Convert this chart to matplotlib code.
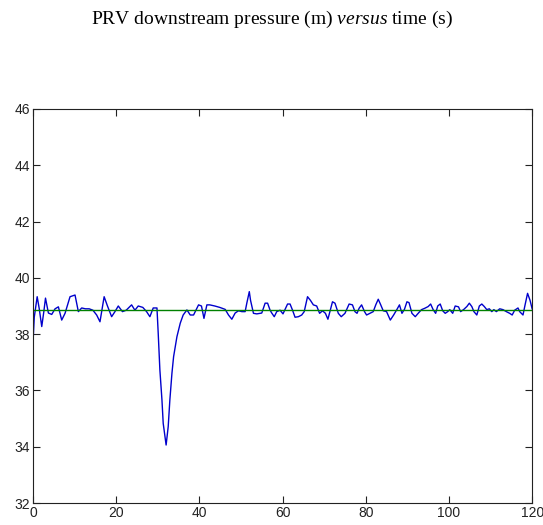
import matplotlib
matplotlib.use("Agg")
from matplotlib import pyplot as plt

plt.rcParams['font.family'] = ['Liberation Sans', 'DejaVu Sans']
plt.rcParams['mathtext.fontset'] = 'custom'
plt.rcParams['mathtext.rm'] = 'Liberation Serif'
plt.rcParams['mathtext.it'] = 'Liberation Serif:italic'

# time (s) and PRV downstream pressure (m)
time = [0.0, 0.3, 1.0, 1.5, 2.1, 2.6, 3.0, 3.7, 4.5, 5.3, 6.1, 6.9, 7.7, 8.9,
        10.1, 10.9, 11.7, 12.6, 13.5, 14.4, 15.3, 16.1, 17.1, 17.9, 18.9, 19.7,
        20.5, 21.5, 22.4, 23.7, 24.5, 25.3, 26.4, 27.3, 28.1, 28.9, 29.8, 30.1,
        30.5, 31.0, 31.3, 32.0, 32.5, 32.9, 33.4, 33.8, 34.6, 35.4, 36.1, 37.0,
        37.8, 38.6, 39.8, 40.5, 41.1, 41.8, 42.5, 43.7, 44.9, 46.2, 47.0, 47.8,
        48.6, 49.4, 50.2, 51.0, 51.4, 52.0, 52.3, 53.0, 53.8, 55.0, 55.8, 56.4,
        57.0, 57.4, 58.0, 58.6, 59.4, 60.1, 60.6, 61.2, 61.8, 62.4, 63.0, 63.8,
        64.6, 65.2, 66.0, 66.7, 67.4, 68.2, 68.9, 69.6, 70.3, 70.9, 71.5, 72.0,
        72.6, 73.4, 74.1, 75.0, 76.0, 76.8, 77.4, 77.9, 78.4, 79.0, 79.7, 80.2,
        81.0, 81.8, 82.4, 83.0, 83.6, 84.2, 85.0, 85.9, 86.7, 87.5, 88.1, 88.7,
        89.3, 89.9, 90.4, 91.1, 91.9, 92.6, 93.4, 94.2, 95.0, 95.6, 96.2, 96.8,
        97.3, 97.9, 98.5, 99.1, 99.7, 100.2, 100.9, 101.5, 102.3, 102.8, 103.5,
        104.3, 104.9, 105.5, 106.0, 106.7, 107.3, 107.9, 108.5, 109.1, 109.7,
        110.3, 110.8, 111.4, 112.2, 113.0, 113.8, 114.6, 115.2, 115.8, 116.6,
        117.0, 117.8, 118.3, 118.9, 119.5, 120.0]
pressure = [37.7, 38.6, 39.33, 38.9, 38.27, 38.8, 39.28, 38.75, 38.7, 38.9, 38.97,
            38.5, 38.74, 39.33, 39.39, 38.8, 38.93, 38.9, 38.9, 38.85, 38.68, 38.44,
            39.33, 39.0, 38.62, 38.8, 39.0, 38.8, 38.85, 39.04, 38.85, 39.0, 38.95,
            38.8, 38.62, 38.93, 38.93, 38.03, 36.73, 35.66, 34.83, 34.06, 34.71,
            35.66, 36.61, 37.2, 37.91, 38.39, 38.68, 38.86, 38.68, 38.68, 39.04,
            39.0, 38.56, 39.04, 39.04, 39.0, 38.95, 38.88, 38.68, 38.53, 38.75,
            38.83, 38.8, 38.8, 39.1, 39.51, 39.2, 38.74, 38.72, 38.75, 39.1, 39.1,
            38.85, 38.75, 38.62, 38.8, 38.85, 38.72, 38.88, 39.07, 39.07, 38.85,
            38.6, 38.62, 38.68, 38.8, 39.33, 39.2, 39.04, 39.0, 38.74, 38.83, 38.74,
            38.53, 38.87, 39.15, 39.1, 38.74, 38.62, 38.74, 39.07, 39.04, 38.8,
            38.74, 38.92, 39.04, 38.8, 38.68, 38.74, 38.8, 39.04, 39.24, 39.04,
            38.83, 38.8, 38.5, 38.68, 38.88, 39.04, 38.74, 38.88, 39.15, 39.12,
            38.74, 38.62, 38.74, 38.87, 38.92, 38.98, 39.07, 38.87, 38.74, 39.0,
            39.07, 38.83, 38.74, 38.8, 38.87, 38.74, 39.0, 38.97, 38.8, 38.87,
            38.98, 39.1, 38.98, 38.8, 38.68, 39.0, 39.07, 38.98, 38.87, 38.9,
            38.8, 38.87, 38.8, 38.9, 38.87, 38.8, 38.74, 38.68, 38.85, 38.93,
            38.8, 38.68, 39.04, 39.45, 39.2, 38.9]
target = 38.85

fig = plt.figure(figsize=(5.43, 5.25), dpi=100)
ax = fig.add_axes([0.0608, 0.0419, 0.9192, 0.7505])

ax.plot(time, pressure, color='#0000cc', lw=1.0)
ax.plot([0, 120], [target, target], color='#008000', lw=1.0)

ax.set_xlim(0, 120)
ax.set_ylim(32, 46)
ax.set_xticks(range(0, 121, 20))
ax.set_yticks(range(32, 47, 2))
ax.tick_params(direction='in', length=5, width=0.8, labelsize=10, pad=2,
               top=True, right=True, colors='#222222')
for s in ax.spines.values():
    s.set_linewidth(0.8)
    s.set_color('#222222')

fig.text(0.5, 1 - 19 / 525, r"PRV downstream pressure (m) $\it{versus}$ time (s)",
         family='Liberation Serif', fontsize=14, ha='center', va='center')

fig.savefig("out.png", dpi=100)
